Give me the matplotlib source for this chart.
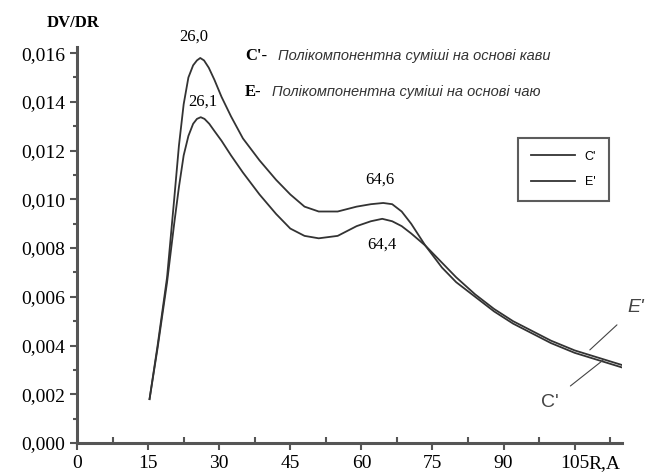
import matplotlib
matplotlib.use("Agg")
import matplotlib.pyplot as plt
from matplotlib.ticker import MultipleLocator, FuncFormatter

# C' - coffee based mixture, E' - tea based mixture
r_c = [15.3, 17, 19, 20.5, 21.5, 22.5, 23.5, 24.5, 25.3, 26, 26.8, 27.8, 29, 30.5, 32.5, 35,
       38.5, 42, 45, 48, 51, 55, 59, 62, 64.6, 66.5, 68.5, 70.5, 73.5, 77, 80, 84, 88, 92,
       96, 100, 105, 110, 115]
dv_c = [0.0018, 0.0040, 0.0068, 0.0100, 0.0122, 0.0139, 0.0150, 0.0155, 0.0157, 0.0158,
        0.0157, 0.0154, 0.0149, 0.0142, 0.0134, 0.0125, 0.0116, 0.0108, 0.0102, 0.0097,
        0.0095, 0.0095, 0.0097, 0.0098, 0.00985, 0.0098, 0.0095, 0.0090, 0.0081, 0.0072,
        0.0066, 0.0060, 0.0054, 0.0049, 0.0045, 0.0041, 0.0037, 0.0034, 0.0031]
r_e = [15.3, 17, 19, 20.5, 21.5, 22.5, 23.5, 24.5, 25.3, 26.1, 26.9, 27.9, 29, 30.5, 32.5, 35,
       38.5, 42, 45, 48, 51, 55, 59, 62, 64.4, 66.5, 68.5, 70.5, 73.5, 77, 80, 84, 88, 92,
       96, 100, 105, 110, 115]
dv_e = [0.0018, 0.0039, 0.0066, 0.0090, 0.0105, 0.0118, 0.0126, 0.0131, 0.0133, 0.01337,
        0.0133, 0.0131, 0.0128, 0.0124, 0.0118, 0.0111, 0.0102, 0.0094, 0.0088, 0.0085,
        0.0084, 0.0085, 0.0089, 0.0091, 0.0092, 0.0091, 0.0089, 0.0086, 0.0081, 0.0074,
        0.0068, 0.0061, 0.0055, 0.0050, 0.0046, 0.0042, 0.0038, 0.0035, 0.0032]

peak_labels = [("26,0", 24.6, 0.01666), ("26,1", 26.6, 0.0140),
               ("64,6", 63.9, 0.01079), ("64,4", 64.3, 0.00812)]

serif = ["Liberation Serif", "DejaVu Serif"]
sans = ["Liberation Sans", "DejaVu Sans"]
grey = "#555555"

fig = plt.figure(figsize=(6.5, 4.74), dpi=100)
ax = fig.add_axes([0.1185, 0.0654, 0.8385, 0.8354])

ax.plot(r_c, dv_c, color="#333333", lw=1.3, label="C'")
ax.plot(r_e, dv_e, color="#333333", lw=1.3, label="E'")

ax.set_xlim(0, 115)
ax.set_ylim(0, 0.01625)
for s in ["top", "right"]:
    ax.spines[s].set_visible(False)
for s in ["left", "bottom"]:
    ax.spines[s].set_color(grey)
    ax.spines[s].set_linewidth(2.2)

ax.xaxis.set_major_locator(MultipleLocator(15))
ax.xaxis.set_minor_locator(MultipleLocator(7.5))
ax.yaxis.set_major_locator(MultipleLocator(0.002))
ax.yaxis.set_minor_locator(MultipleLocator(0.001))
ax.yaxis.set_major_formatter(FuncFormatter(lambda v, p: f"{v:.3f}".replace(".", ",")))
ax.xaxis.set_major_formatter(FuncFormatter(lambda v, p: f"{v:.0f}"))
ax.tick_params(which="major", length=5, width=1.5, color=grey, labelsize=14)
ax.tick_params(axis="x", which="minor", direction="in", length=4, width=1.5, color=grey)
ax.tick_params(axis="y", which="minor", length=3, width=1.5, color=grey)
for lab in ax.get_xticklabels() + ax.get_yticklabels():
    lab.set_family(serif)

fig.text(73 / 650, 1 - 23 / 474, "DV/DR", family=serif, fontsize=12, weight="bold",
         ha="center", va="center")
fig.text(588 / 650, 1 - 464 / 474, "R,A", family=serif, fontsize=14, ha="left", va="center")

for txt, x, y in peak_labels:
    ax.text(x, y, txt, family=serif, fontsize=12, ha="center", va="center", clip_on=False)

fig.text(245 / 650, 1 - 56 / 474, "C'-", family=serif, fontsize=12, weight="bold", va="center")
fig.text(278 / 650, 1 - 56 / 474, "Полікомпонентна суміші на основі кави", family=sans,
         fontsize=10.5, style="italic", va="center", color="#333333")
fig.text(245 / 650, 1 - 92 / 474, "E-", family=serif, fontsize=12, weight="bold", va="center")
fig.text(272 / 650, 1 - 92 / 474, "Полікомпонентна суміші на основі чаю", family=sans,
         fontsize=10.5, style="italic", va="center", color="#333333")

leg = ax.legend(loc="upper left", bbox_to_anchor=(512 / 650, 1 - 132 / 474),
                bbox_transform=fig.transFigure, frameon=True, fancybox=False,
                handlelength=3.5, borderpad=1.0, labelspacing=1.1, prop={"family": sans, "size": 9})
leg.get_frame().set_edgecolor("#333333")
leg.get_frame().set_linewidth(1.5)

ax.annotate("E'", xy=(108.2, 0.00382), xytext=(118, 0.00558), family=sans, fontsize=14,
            style="italic", ha="center", va="center", color="#444444", annotation_clip=False,
            arrowprops=dict(arrowstyle="-", color="#444444", lw=0.8, shrinkA=8, shrinkB=0))
ax.annotate("C'", xy=(111, 0.0034), xytext=(99.8, 0.00168), family=sans, fontsize=14,
            ha="center", va="center", color="#444444", annotation_clip=False,
            arrowprops=dict(arrowstyle="-", color="#444444", lw=0.8, shrinkA=8, shrinkB=0))

fig.savefig("out.png", dpi=100)
